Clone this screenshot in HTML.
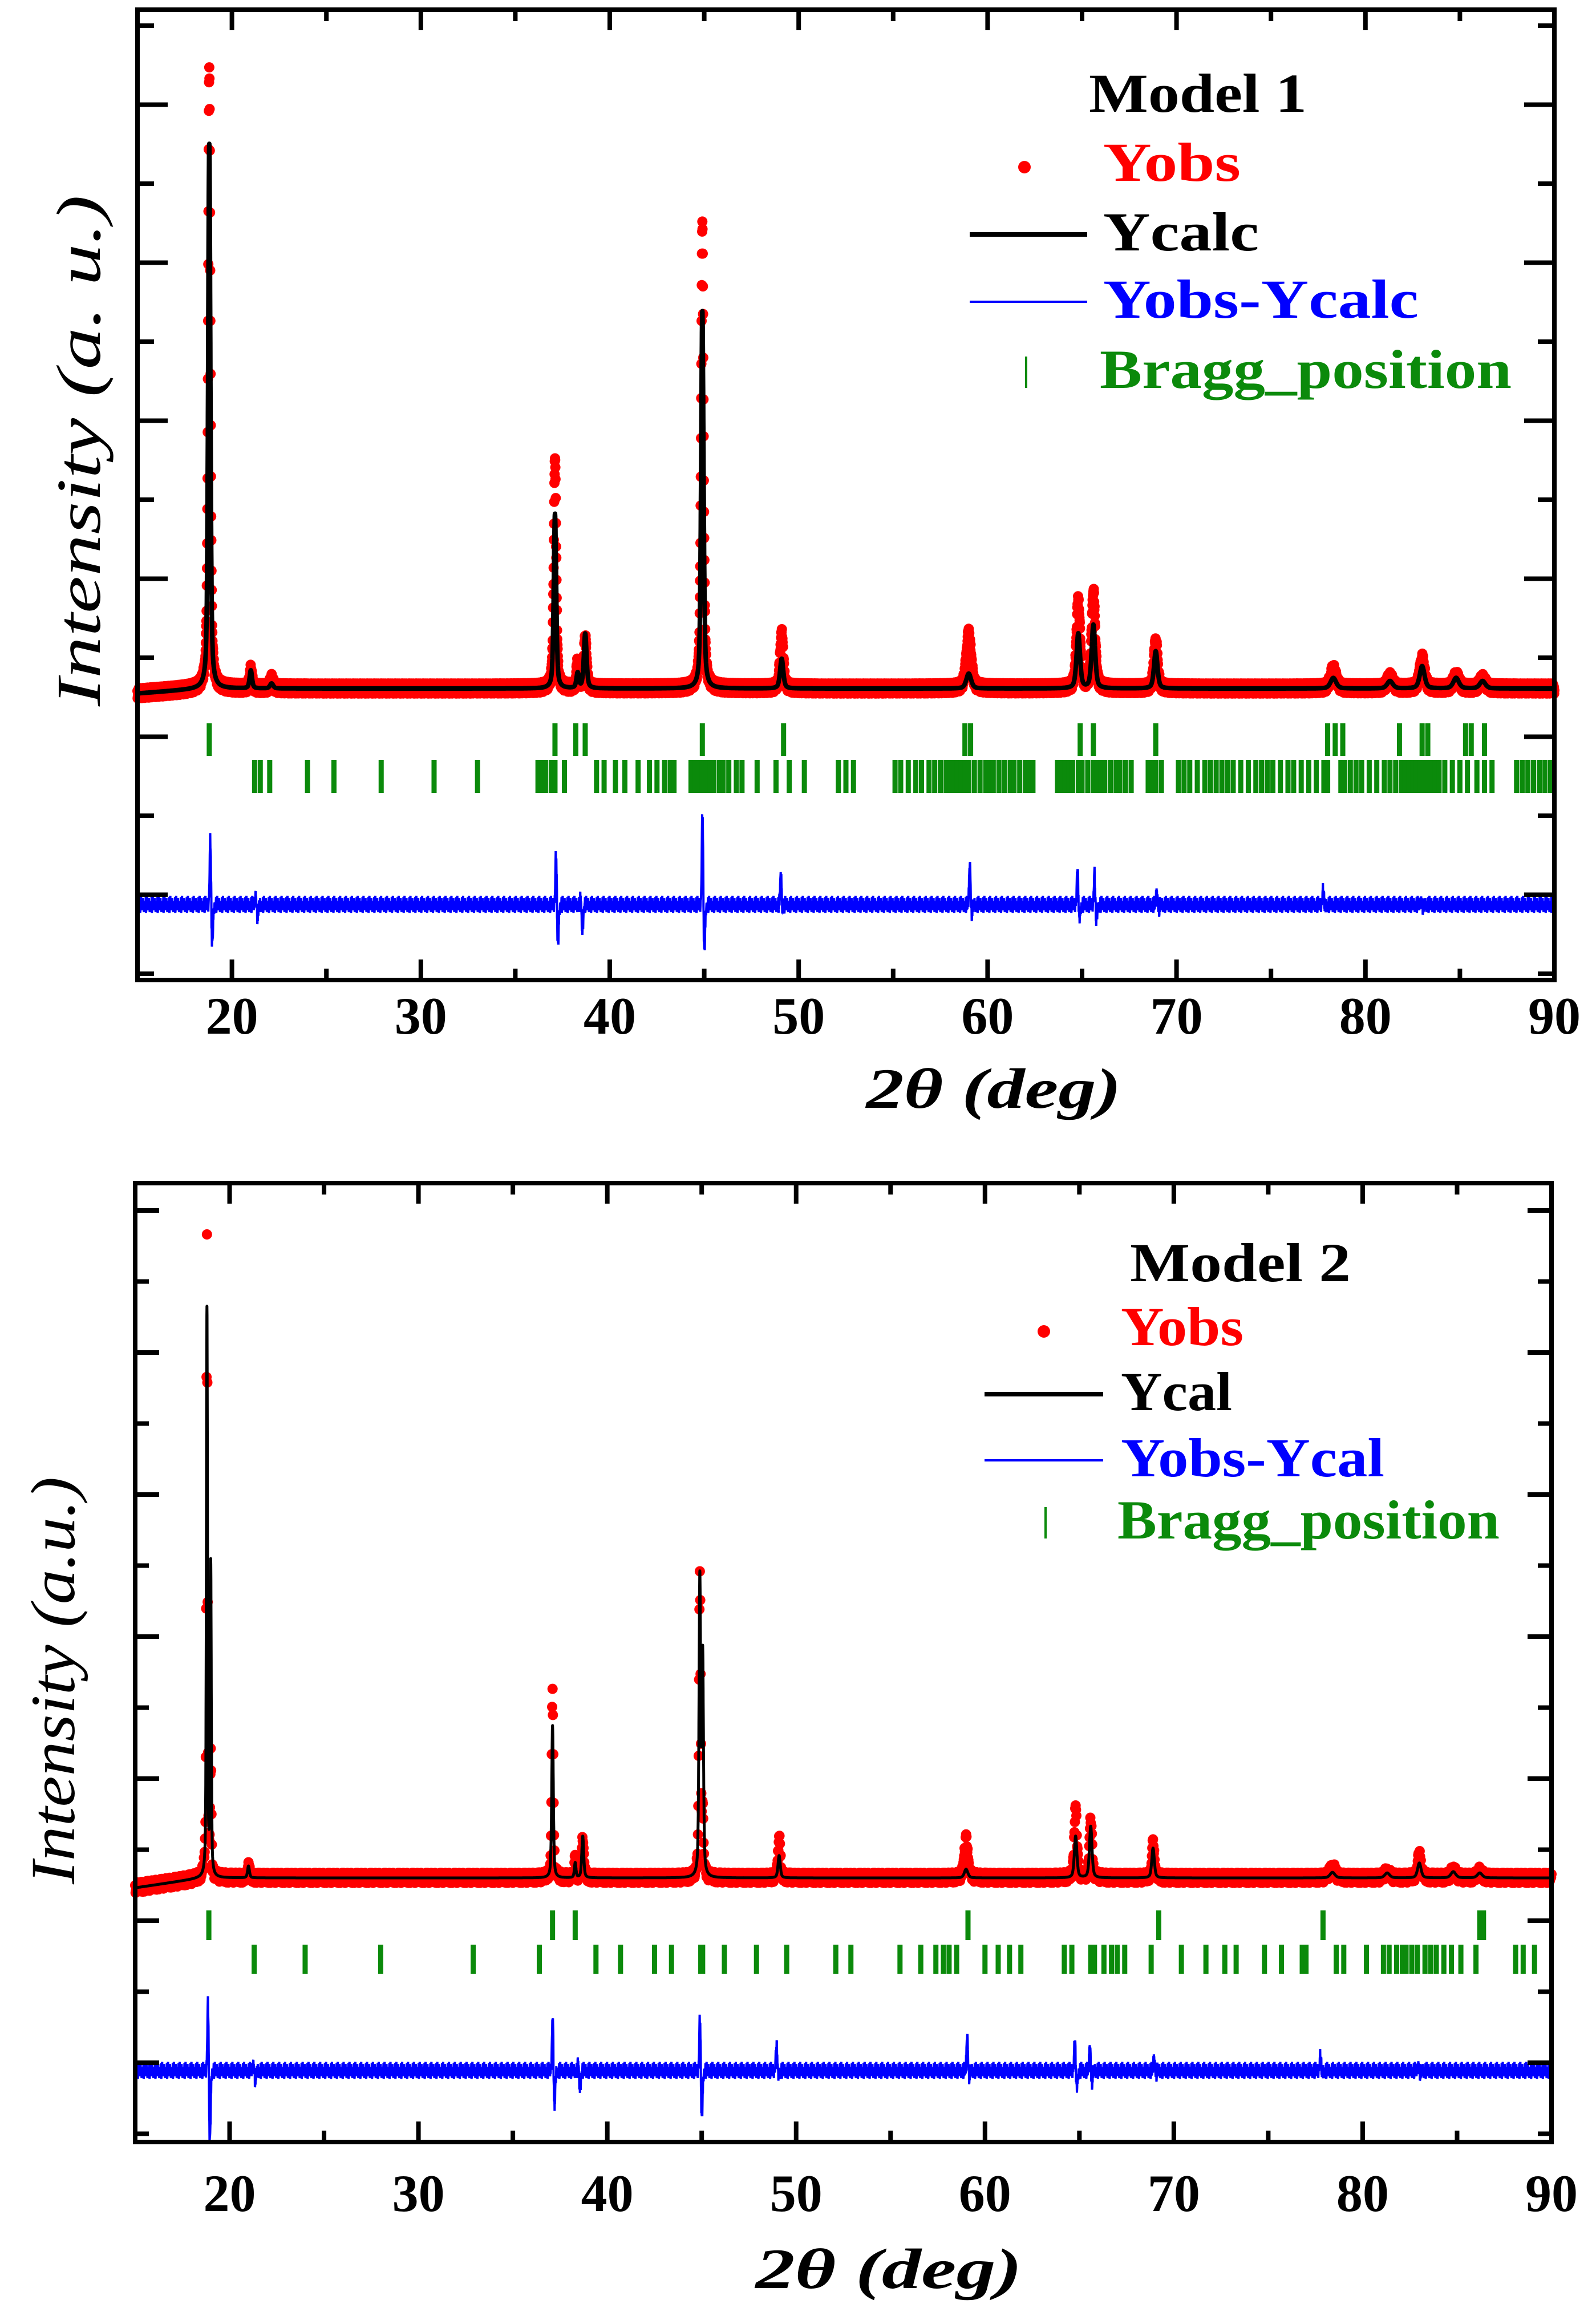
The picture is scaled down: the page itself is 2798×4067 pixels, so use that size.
<!DOCTYPE html>
<html><head><meta charset="utf-8"><style>
html,body{margin:0;padding:0;background:#fff}
svg{display:block}
text{font-family:"Liberation Serif",serif}
</style></head>
<body>
<svg id="fig" width="2798" height="4067" viewBox="0 0 2798 4067" xmlns="http://www.w3.org/2000/svg"></svg>
<script>
// ---------------- DATA ----------------
const xTicks = [20, 30, 40, 50, 60, 70, 80, 90];
const xTickLabels = ["20", "30", "40", "50", "60", "70", "80", "90"];

// Model 1 peaks
const peakPos1 = [18.8, 21.0, 22.1, 37.1, 38.3, 38.7, 44.9, 49.1, 59.0, 64.8, 65.6, 68.9, 78.3, 81.3, 83.0, 84.8, 86.2];
const peakCalc1 = [87.6, 2.9, 0.8, 28.1, 2.4, 8.8, 60.7, 4.8, 2.4, 8.8, 10.2, 6.0, 1.7, 1.2, 3.6, 1.7, 1.2];
const peakObs1 = [99.6, 3.0, 1.5, 37.4, 4.0, 8.3, 74.3, 8.8, 8.8, 14.3, 15.5, 7.9, 3.1, 1.8, 4.8, 2.0, 1.5];
const peakWidth1 = [0.14, 0.15, 0.2, 0.15, 0.15, 0.17, 0.15, 0.2, 0.3, 0.22, 0.22, 0.22, 0.35, 0.35, 0.3, 0.35, 0.35];
const resPos1 = [18.9, 21.3, 37.2, 38.5, 44.95, 49.1, 59.1, 64.8, 65.7, 69.0, 77.8, 83.0];
const resUp1 = [11.2, 2.0, 9.0, 1.0, 16.0, 4.8, 7.1, 6.0, 5.2, 2.4, 2.4, 1.0];
const resDown1 = [7.1, 2.0, 7.1, 4.3, 8.3, 1.0, 1.5, 2.4, 2.9, 0.8, 0.5, 0.5];
const braggRow1a = [18.8, 37.1, 38.2, 38.7, 44.9, 49.2, 58.8, 59.1, 64.9, 65.6, 68.9, 78.0, 78.4, 78.8, 81.8, 83.0, 83.3, 85.3, 85.6, 86.3];
const braggRow1b = [21.2, 21.5, 22.0, 24.0, 25.4, 27.9, 30.7, 33.0, 36.2, 36.4, 36.6, 36.9, 37.1, 37.6, 39.3, 39.7, 40.3, 40.8, 41.5, 42.1, 42.5, 42.9, 43.2, 43.4,
 44.3, 44.5, 44.7, 44.9, 45.1, 45.3, 45.5, 45.8, 46.0, 46.3, 46.7, 47.0, 47.8, 48.8, 49.5, 50.3, 52.1, 52.5, 52.9,
 55.1, 55.4, 55.8, 56.2, 56.5, 56.9, 57.2, 57.5, 57.8, 58.0, 58.2, 58.4, 58.6, 58.8, 59.0, 59.3, 59.6, 59.9, 60.1, 60.3, 60.6, 60.9, 61.2, 61.4, 61.7, 62.0, 62.2, 62.4,
 63.7, 63.9, 64.1, 64.3, 64.5, 64.8, 65.0, 65.3, 65.6, 65.8, 66.0, 66.2, 66.5, 66.8, 67.0, 67.3, 67.6, 68.5, 68.7, 68.9, 69.2,
 70.1, 70.4, 70.7, 71.1, 71.5, 71.8, 72.1, 72.4, 72.7, 73.0, 73.4, 73.8, 74.2, 74.5, 74.8, 75.1, 75.5, 75.9, 76.2, 76.6, 77.0, 77.4, 77.8, 78.0,
 78.7, 78.9, 79.2, 79.5, 79.8, 80.2, 80.6, 81.0, 81.3, 81.6, 81.9, 82.1, 82.3, 82.5, 82.7, 82.9, 83.1, 83.3, 83.5, 83.7, 83.9, 84.2, 84.6, 85.0, 85.4, 85.9, 86.3, 86.7,
 88.0, 88.3, 88.6, 88.9, 89.2, 89.5, 89.8];

// Model 2 peaks
const peakPos2 = [18.8, 19.0, 21.0, 37.1, 38.3, 38.7, 44.9, 45.05, 49.1, 59.0, 64.8, 65.6, 68.9, 78.4, 81.3, 83.0, 84.8, 86.2];
const peakCalc2 = [91.2, 50.0, 1.9, 24.5, 2.4, 6.7, 47.6, 35.0, 3.6, 1.4, 6.7, 8.3, 4.8, 0.9, 0.8, 2.4, 1.0, 0.8];
const peakObs2 = [102.9, 20.0, 2.0, 30.5, 3.0, 6.7, 49.5, 10.0, 6.7, 6.2, 11.4, 9.5, 5.5, 1.9, 1.0, 3.6, 1.2, 1.0];
const peakWidth2 = [0.07, 0.07, 0.12, 0.1, 0.1, 0.12, 0.1, 0.1, 0.14, 0.22, 0.16, 0.16, 0.16, 0.3, 0.3, 0.22, 0.3, 0.3];
const resPos2 = [18.9, 21.3, 37.15, 38.5, 44.95, 49.0, 59.1, 64.8, 65.6, 69.0, 77.8, 83.0];
const resUp2 = [12.0, 1.5, 9.5, 1.0, 9.5, 4.0, 6.0, 5.2, 4.5, 2.4, 2.4, 1.2];
const resDown2 = [12.0, 1.5, 6.0, 3.0, 8.3, 0.8, 1.0, 3.0, 2.0, 0.6, 0.5, 0.5];
const braggRow2a = [18.9, 37.1, 38.3, 59.1, 69.2, 77.9, 86.2, 86.4];
const braggRow2b = [21.3, 24.0, 28.0, 32.9, 36.4, 39.4, 40.7, 42.5, 43.4, 44.95, 45.05, 46.2, 47.9, 49.5, 52.1, 52.9, 55.5, 56.6, 57.4, 57.8, 58.1, 58.5,
 60.0, 60.7, 61.3, 61.9, 64.2, 64.6, 65.6, 65.8, 66.3, 66.7, 67.0, 67.4, 68.8, 70.4, 71.7, 72.7, 73.3, 74.8, 75.7, 76.8, 77.0, 78.6, 79.0, 80.2,
 81.1, 81.4, 81.8, 82.1, 82.3, 82.6, 82.9, 83.3, 83.6, 83.9, 84.3, 84.7, 85.2, 86.0, 88.1, 88.5, 89.1];

// typical spread of observed counts around the fit
const scatter = [0.4, -0.7, 0.8, -0.2, 0.1, -0.8, 0.5, 0.7, -0.4, 0.2, -0.5, 0.8, -0.1, 0.3, -0.8, 0.0, 0.6, -0.6, 0.2, -0.3, 0.5, -0.5, 0.8, 0.1, -0.4, 0.3, -0.8, 0.2, 0.6, -0.1, -0.5, 0.5, 0.0, -0.7, 0.3, 0.8, -0.2];
const resNoise = [0.6, -0.5, 1.2, -0.9, 0.3, -1.3, 0.8, 0.1, -0.6, 1.4, -0.3, 0.4, -1.1, 0.9, -0.1, 0.3, -0.8, 1.1, -0.4, 0.0, 0.6, -1.2, 0.4, 0.9, -0.6, 0.2, -0.9, 0.7, -0.3, 1.2, -0.7];

// ---------------- RENDER ----------------
const NS = "http://www.w3.org/2000/svg";
const svg = document.getElementById('fig');
function mk(tag, attrs, parent) {
  const e = document.createElementNS(NS, tag);
  for (const k in attrs) e.setAttribute(k, attrs[k]);
  (parent || svg).appendChild(e);
  return e;
}
function pv(x, p, w) { const d = (x - p) / w; return 0.5 * Math.exp(-2.7726 * d * d) + 0.5 / (1 + 4 * d * d); }
function profile(x, pos, h, w) { let s = 0; for (let i = 0; i < pos.length; i++) { if (Math.abs(x - pos[i]) < 6) s += h[i] * pv(x, pos[i], w[i]); } return s; }

function panel(cfg) {
  const g = mk('g', {});
  
  
  const X = v => cfg.x0 + (v - 15) * (cfg.x1 - cfg.x0) / 75;
  const Y = v => cfg.yBase - v * cfg.k;
  const R = v => cfg.resBase - v * cfg.k;
  const bgOff = x => x < 18.6 ? cfg.bgStart * (18.6 - x) / 3.6 : 0;

  const obsG = mk('g', { fill: '#ff0000' }, g);
  
  
  const n = Math.round(75 / cfg.step);
  for (let i = 0; i <= n; i++) {
    const x = 15 + i * cfg.step;
    const v = profile(x, cfg.pos, cfg.obs, cfg.w) + bgOff(x) + scatter[(i * 5) % scatter.length];
    mk('circle', { cx: X(x).toFixed(1), cy: Y(v).toFixed(1), r: cfg.dotR }, obsG);
  }
  let d = '';
  for (let i = 0; i <= 15000; i++) {
    const x = 15 + i * 0.005;
    const v = profile(x, cfg.pos, cfg.calc, cfg.w) + bgOff(x);
    d += (i ? 'L' : 'M') + X(x).toFixed(1) + ' ' + Y(v).toFixed(1);
  }
  const cl = mk('path', { d: d, fill: 'none', stroke: '#000', 'stroke-width': cfg.calcW, 'stroke-linejoin': 'round' }, g);
  
  

  const bg = mk('g', { stroke: '#0b8a0b', 'stroke-width': 9 }, g);
  
  
  cfg.braggA.forEach(b => { mk('line', { x1: X(b), x2: X(b), y1: cfg.rowA[0], y2: cfg.rowA[1] }, bg); });
  cfg.braggB.forEach(b => { mk('line', { x1: X(b), x2: X(b), y1: cfg.rowB[0], y2: cfg.rowB[1] }, bg); });

  let rd = '';
  for (let i = 0; i <= 7500; i++) {
    const x = 15 + i * 0.01;
    let v = resNoise[(i * 7) % resNoise.length];
    for (let j = 0; j < cfg.resPos.length; j++) {
      const p = cfg.resPos[j];
      v += cfg.resUp[j] * Math.exp(-Math.pow((x - p + 0.04) / 0.05, 2)) - cfg.resDown[j] * Math.exp(-Math.pow((x - p - 0.05) / 0.06, 2));
    }
    rd += (i ? 'L' : 'M') + X(x).toFixed(1) + ' ' + R(v).toFixed(1);
  }
  const rl = mk('path', { d: rd, fill: 'none', stroke: '#0000ff', 'stroke-width': 4 }, g);
  
  

  const fr = mk('rect', { x: cfg.x0, y: cfg.top, width: cfg.x1 - cfg.x0, height: cfg.bot - cfg.top, fill: 'none', stroke: '#000', 'stroke-width': 8 }, g);
  
  
  const tg = mk('g', { stroke: '#000', 'stroke-width': 8 }, g);
  
  
  for (let v = 15; v <= 90; v += 5) {
    const L = (v % 10 === 0) ? 36 : 20;
    mk('line', { x1: X(v), x2: X(v), y1: cfg.bot, y2: cfg.bot - L }, tg);
    mk('line', { x1: X(v), x2: X(v), y1: cfg.top, y2: cfg.top + L }, tg);
  }
  let idx = 0;
  for (let y = cfg.yTick0; y < cfg.bot - 5; y += cfg.yTickStep) {
    const L = ((idx % 2 === 0) === cfg.longFirst) ? cfg.longT : cfg.shortT;
    mk('line', { x1: cfg.x0, x2: cfg.x0 + L, y1: y, y2: y }, tg);
    mk('line', { x1: cfg.x1, x2: cfg.x1 - L, y1: y, y2: y }, tg);
    idx++;
  }
  xTicks.forEach((v, i) => {
    const t = mk('text', { x: X(v), y: cfg.labY, 'font-size': 92, 'font-weight': 'bold', 'text-anchor': 'middle' }, g);
    t.textContent = xTickLabels[i];
    
    
  });
  const xt = mk('text', { x: cfg.xtX, y: cfg.xtY, 'font-size': 100, 'font-weight': 'bold', 'font-style': 'italic', 'text-anchor': 'middle', textLength: cfg.xtL, lengthAdjust: 'spacingAndGlyphs' }, g);
  xt.textContent = '2\u03B8 (deg)';
  
  
  const yt = mk('text', { x: 0, y: 0, 'font-size': 110, 'font-style': 'italic', 'text-anchor': 'middle', textLength: cfg.ytL, lengthAdjust: 'spacingAndGlyphs', transform: `translate(${cfg.ytX},${cfg.ytY}) rotate(-90)` }, g);
  yt.textContent = cfg.ytText;
  
  

  const lg = mk('g', {}, g);
  
  
  const L = cfg.leg;
  function lt(txt, x, y, col, len, nm) {
    const t = mk('text', { x: x, y: y, 'font-size': 96, 'font-weight': 'bold', fill: col, textLength: len, lengthAdjust: 'spacingAndGlyphs' }, lg);
    t.textContent = txt;
    
    
  }
  lt(cfg.title, L.titleX, L.titleY, '#000', L.titleL, 'legend-title');
  mk('circle', { cx: L.dotX, cy: L.obsY - 24, r: 11, fill: '#ff0000' }, lg);
  lt('Yobs', L.textX, L.obsY, '#ff0000', L.obsL, 'legend-yobs');
  mk('line', { x1: L.lineX0, x2: L.lineX1, y1: L.calcY - 28, y2: L.calcY - 28, stroke: '#000', 'stroke-width': 8 }, lg);
  lt(cfg.calcName, L.textX, L.calcY, '#000', L.calcL, 'legend-ycalc');
  mk('line', { x1: L.lineX0, x2: L.lineX1, y1: L.resY - 28, y2: L.resY - 28, stroke: '#0000ff', 'stroke-width': 4 }, lg);
  lt(cfg.resName, L.textX, L.resY, '#0000ff', L.resL, 'legend-residual');
  mk('line', { x1: L.dotX + 3, x2: L.dotX + 3, y1: L.braggY - 55, y2: L.braggY, stroke: '#0b8a0b', 'stroke-width': 4 }, lg);
  lt('Bragg_position', L.textX - 6, L.braggY, '#0b8a0b', L.braggL, 'legend-bragg');
}

panel({
  name: 'panel-model-1', x0: 241, x1: 2725, top: 17, bot: 1718, yBase: 1207, resBase: 1586, k: 10.9, bgStart: -0.8,
  step: 0.01, dotR: 9, calcW: 8, pos: peakPos1, calc: peakCalc1, obs: peakObs1, w: peakWidth1,
  braggA: braggRow1a, braggB: braggRow1b, rowA: [1268, 1325], rowB: [1332, 1390],
  resPos: resPos1, resUp: resUp1, resDown: resDown1,
  yTick0: 45, yTickStep: 138.5, longFirst: false, longT: 53, shortT: 29,
  labY: 1812, xtX: 1742, xtY: 1942, xtL: 447, ytX: 175, ytY: 790, ytL: 896, ytText: 'Intensity (a. u.)',
  title: 'Model 1', calcName: 'Ycalc', resName: 'Yobs-Ycalc',
  leg: { titleX: 1909, titleY: 196, titleL: 382, dotX: 1796, textX: 1934, obsY: 317, obsL: 241, lineX0: 1700, lineX1: 1906, calcY: 439, calcL: 273, resY: 557, resL: 553, braggY: 680, braggL: 722 }
});
panel({
  name: 'panel-model-2', x0: 237, x1: 2720, top: 2074, bot: 3755, yBase: 3292, resBase: 3630, k: 10.9, bgStart: -1.6,
  step: 0.02, dotR: 9, calcW: 5, pos: peakPos2, calc: peakCalc2, obs: peakObs2, w: peakWidth2,
  braggA: braggRow2a, braggB: braggRow2b, rowA: [3349, 3401], rowB: [3409, 3460],
  resPos: resPos2, resUp: resUp2, resDown: resDown2,
  yTick0: 2122, yTickStep: 124.5, longFirst: true, longT: 42, shortT: 24,
  labY: 3876, xtX: 1558, xtY: 4011, xtL: 467, ytX: 130, ytY: 2946, ytL: 714, ytText: 'Intensity (a.u.)',
  title: 'Model 2', calcName: 'Ycal', resName: 'Yobs-Ycal',
  leg: { titleX: 1981, titleY: 2246, titleL: 387, dotX: 1830, textX: 1965, obsY: 2358, obsL: 215, lineX0: 1726, lineX1: 1934, calcY: 2472, calcL: 195, resY: 2588, resL: 462, braggY: 2697, braggL: 670 }
});
</script>
</body></html>
